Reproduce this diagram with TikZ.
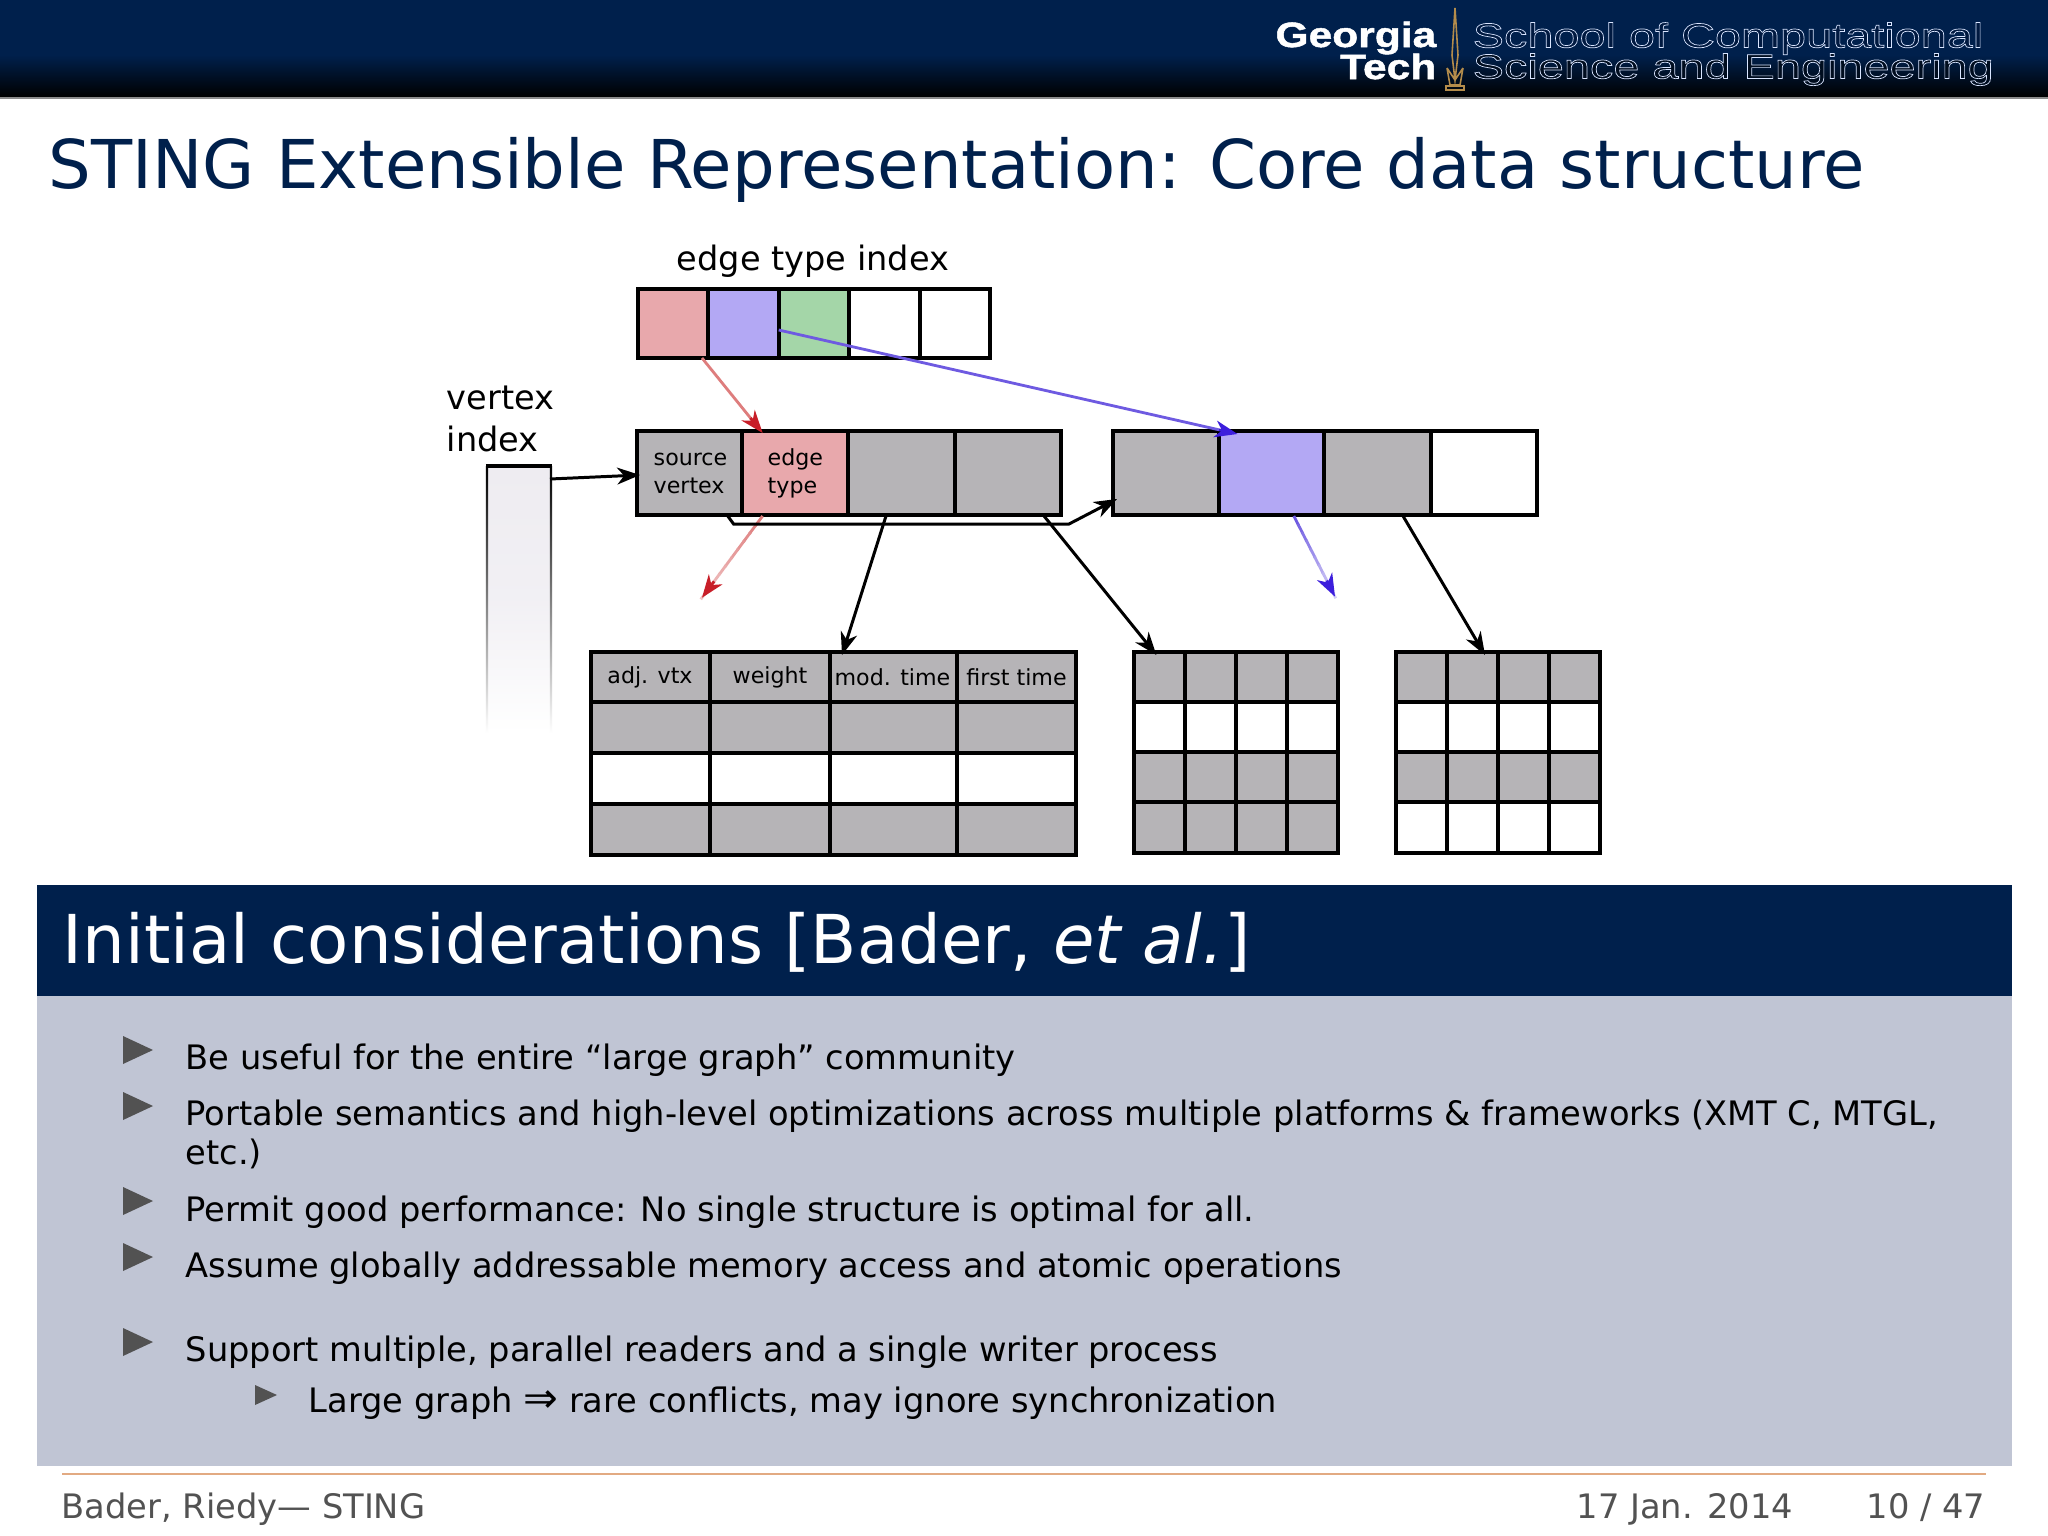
\documentclass[tikz,border=0pt]{standalone}
\usepackage{fontspec}
\setmainfont{DejaVu Sans}
\newfontfamily\gtbold[FakeStretch=1.21,FakeBold=1.4]{Liberation Sans Bold}
\newfontfamily\gtline[FakeBold=2,FakeStretch=1.36]{Liberation Sans}
\usetikzlibrary{arrows.meta,calc}
\definecolor{navy}{RGB}{0,32,76}
\definecolor{cellgray}{RGB}{182,180,183}
\definecolor{cellpink}{RGB}{232,168,172}
\definecolor{cellviolet}{RGB}{179,168,244}
\definecolor{cellgreen}{RGB}{164,214,168}
\definecolor{blockbody}{RGB}{192,197,212}
\definecolor{footgray}{RGB}{82,82,82}
\definecolor{spire}{RGB}{180,140,75}
\definecolor{rulecolor}{RGB}{226,170,130}
\definecolor{redhead}{RGB}{200,30,40}
\definecolor{redline}{RGB}{222,125,125}
\definecolor{bluehead}{RGB}{60,30,220}
\definecolor{blueline}{RGB}{110,90,225}
\definecolor{indexfill}{RGB}{238,236,241}
\newcommand{\fsz}[1]{\fontsize{#1}{#1}\selectfont}
\newcommand{\cellat}[6]{\node[cellbox,fill=#6,minimum width={(#4-#2)*0.01cm},minimum height={(#5-#3)*0.01cm}] (#1) at ({(#2+#4)/2},{(#3+#5)/2}) {};}
\newcommand{\fadearrow}[4]{%
  \foreach \i in {0,...,9}{\pgfmathsetmacro{\pa}{\i/10}\pgfmathsetmacro{\pb}{(\i+1.2)/10}\pgfmathsetmacro{\mixval}{100-\i*#4}
    \draw[line width=.8pt,color=#3!\mixval!white] ($(#1)!\pa!(#2)$)--($(#1)!\pb!(#2)$);}}
\tikzset{
  cellbox/.style={draw=black,line width=.87pt,inner sep=0,outer sep=0,rectangle},
  celltext/.style={anchor=base,inner sep=0,font=\fsz{6.3},text=black},
  disktext/.style={anchor=base west,inner sep=0,font=\fsz{9.55},text=black},
  itemtext/.style={anchor=base west,inner sep=0,font=\fsz{9.58},text=black},
  itemmark/.style={fill=footgray,draw=none},
  foottext/.style={anchor=base west,inner sep=0,font=\fsz{9.58},text=footgray},
  linkline/.style={->,line width=.85pt,black},
}
\begin{document}
\begin{tikzpicture}[x=0.01cm,y=-0.01cm,>={Stealth[length=6.5pt,width=4.8pt,inset=2pt]}]
\useasboundingbox (0,0) rectangle (2048,1536);
\fill[white] (0,0) rectangle (2048,1536);
% header
\fill[navy] (0,0) rectangle (2048,55);
\shade[top color=navy,bottom color=black] (0,55) rectangle (2048,97);
\fill[black!45] (0,97) rectangle (2048,98.5);
\node[anchor=base east,inner sep=0,text=white,font=\gtbold\fsz{10}] (georgia) at (1437,47) {Georgia};
\node[anchor=base east,inner sep=0,text=white,font=\gtbold\fsz{10}] (tech) at (1437,79) {Tech};
\draw[spire,line width=.45pt] (1452,55)--(1455,8)--(1458,55)--(1455,80)--cycle (1447,68)--(1450,85)--(1460,85)--(1463,68) (1447,68)--(1455,80)--(1463,68);
\draw[spire,line width=.45pt] (1446,86) rectangle (1464,90);
\node[anchor=base west,inner sep=0,font=\gtline\fsz{9.8}] (school) at (1472,47.5) {\special{pdf:bcolor [0 0.1 0.25] [0.85 0.9 1]}School of Computational\special{pdf:ecolor}};
\node[anchor=base west,inner sep=0,font=\gtline\fsz{9.8}] (science) at (1472,78.5) {\special{pdf:bcolor [0 0.05 0.12] [0.85 0.9 1]}Science and Engineering\special{pdf:ecolor}};
% title
\node[anchor=base west,inner sep=0,text=navy,font=\fsz{19.14}] (title) at (48,188) {STING Extensible Representation: Core data structure};
% edge type index
\node[anchor=base,inner sep=0,font=\fsz{9.55}] (typelabel) at (813,270) {edge type index};
\cellat{t1}{638}{289}{708}{358}{cellpink}
\cellat{t2}{708}{289}{779}{358}{cellviolet}
\cellat{t3}{779}{289}{849}{358}{cellgreen}
\cellat{t4}{849}{289}{920}{358}{white}
\cellat{t5}{920}{289}{990}{358}{white}
% vertex index
\node[disktext] (vlabela) at (446,409) {vertex};
\node[disktext] (vlabelb) at (446,451) {index};
\shade[top color=indexfill,bottom color=white,middle color=indexfill!80!white] (487,466) rectangle (551,733);
\shade[top color=black,bottom color=white] (485.8,466) rectangle (488.2,733);
\shade[top color=black,bottom color=white] (549.8,466) rectangle (552.2,733);
\draw[line width=.87pt] (485.8,466)--(552.2,466);
% block lists
\cellat{a1}{637}{431}{742}{515}{cellgray}
\cellat{a2}{742}{431}{848}{515}{cellpink}
\cellat{a3}{848}{431}{955}{515}{cellgray}
\cellat{a4}{955}{431}{1061}{515}{cellgray}
\cellat{b1}{1113}{431}{1219}{515}{cellgray}
\cellat{b2}{1219}{431}{1324}{515}{cellviolet}
\cellat{b3}{1324}{431}{1431}{515}{cellgray}
\cellat{b4}{1431}{431}{1537}{515}{white}
\node[celltext,anchor=base west] (srca) at (653,465) {source};
\node[celltext,anchor=base west] (srcb) at (653,493) {vertex};
\node[celltext,anchor=base west] (typa) at (767,465) {edge};
\node[celltext,anchor=base west] (typb) at (767,493) {type};
% tables
\foreach \ya/\yb/\col [count=\r] in {652/702/cellgray,702/753/cellgray,753/804/white,804/855/cellgray}{
  \foreach \xa/\xb [count=\c] in {591/710,710/830,830/957,957/1076}{\cellat{p\r\c}{\xa}{\ya}{\xb}{\yb}{\col}}}
\foreach \ya/\yb/\col [count=\r] in {652/702/cellgray,702/752/white,752/802/cellgray,802/853/cellgray}{
  \foreach \xa/\xb [count=\c] in {1134/1185,1185/1236,1236/1287,1287/1338}{\cellat{q\r\c}{\xa}{\ya}{\xb}{\yb}{\col}}}
\foreach \ya/\yb/\col [count=\r] in {652/702/cellgray,702/752/white,752/802/cellgray,802/853/white}{
  \foreach \xa/\xb [count=\c] in {1396/1447,1447/1498,1498/1549,1549/1600}{\cellat{s\r\c}{\xa}{\ya}{\xb}{\yb}{\col}}}
\node[celltext] (adj) at (650,683) {adj. vtx};
\node[celltext] (weight) at (770,683) {weight};
\node[celltext] (modt) at (892.5,685) {mod. time};
\node[celltext] (firstt) at (1016.5,685) {first time};
% arrows
\coordinate (vout) at (550,479); \coordinate (ain) at (640,475);
\draw[linkline] (vout)--(ain);
\coordinate (ta) at (702,358); \coordinate (tb) at (762.6,433);
\coordinate (tc) at (778.7,330); \coordinate (td) at (1237.5,434);
\coordinate (tf) at (762.6,516); \coordinate (tg) at (702,597.7);
\coordinate (th) at (1293.8,516); \coordinate (ti) at (1335,596.7);
\draw[line width=.8pt,redline] (ta)--($(ta)!.9!(tb)$);
\draw[->,line width=.8pt,redhead] ($(ta)!.8!(tb)$)--(tb);
\draw[line width=.8pt,blueline] (tc)--($(tc)!.96!(td)$);
\draw[->,line width=.8pt,bluehead] ($(tc)!.96!(td)$)--(td);
\fadearrow{tf}{tg}{redline}{6}
\draw[->,line width=.8pt,redhead] ($(tf)!.8!(tg)$)--(tg);
\fadearrow{th}{ti}{blueline}{8}
\draw[->,line width=.8pt,bluehead] ($(th)!.8!(ti)$)--(ti);
\coordinate (na) at (727,515); \coordinate (nb) at (733.6,524); \coordinate (nc) at (1069,524); \coordinate (nd) at (1117,499);
\draw[linkline] (na)--(nb)--(nc)--(nd);
\coordinate (pa) at (886,516); \coordinate (pb) at (842,655);
\draw[linkline] (pa)--(pb);
\coordinate (qa) at (1044,516); \coordinate (qb) at (1156.4,655);
\draw[linkline] (qa)--(qb);
\coordinate (sa) at (1403,516); \coordinate (sb) at (1485,655);
\draw[linkline] (sa)--(sb);
% block
\fill[navy] (37,885) rectangle (2012,996);
\fill[blockbody] (37,996) rectangle (2012,1466);
\node[anchor=base west,inner sep=0,text=white,font=\fsz{19.17}] (blocktitle) at (62,963) {Initial considerations [Bader, \textit{et al.}]};
\foreach \ya in {1050,1106,1201,1257,1342}{\fill[itemmark] (123,\ya-14)--(153,\ya)--(123,\ya+14)--cycle;}
\fill[itemmark] (255,1385)--(277,1395)--(255,1405)--cycle;
\node[itemtext] (ia) at (185,1069.5) {Be useful for the entire “large graph” community};
\node[itemtext] (ib) at (185,1125.5) {Portable semantics and high-level optimizations across multiple platforms \& frameworks (XMT C, MTGL,};
\node[itemtext] (ic) at (185,1164.5) {etc.)};
\node[itemtext] (id) at (185,1221) {Permit good performance: No single structure is optimal for all.};
\node[itemtext] (ie) at (185,1277) {Assume globally addressable memory access and atomic operations};
\node[itemtext] (if) at (185,1361.5) {Support multiple, parallel readers and a single writer process};
\node[itemtext] (ig) at (308,1412.5) {Large graph {\fsz{11.8}⇒} rare conflicts, may ignore synchronization};
% footer
\draw[color=rulecolor,line width=.6pt] (62,1474)--(1986,1474);
\node[foottext] (fa) at (61,1518) {Bader, Riedy--- STING};
\node[foottext] (fb) at (1576,1518) {17 Jan. 2014};
\node[foottext,anchor=base east] (fc) at (1986,1518) {10 / 47};
\end{tikzpicture}
\end{document}
